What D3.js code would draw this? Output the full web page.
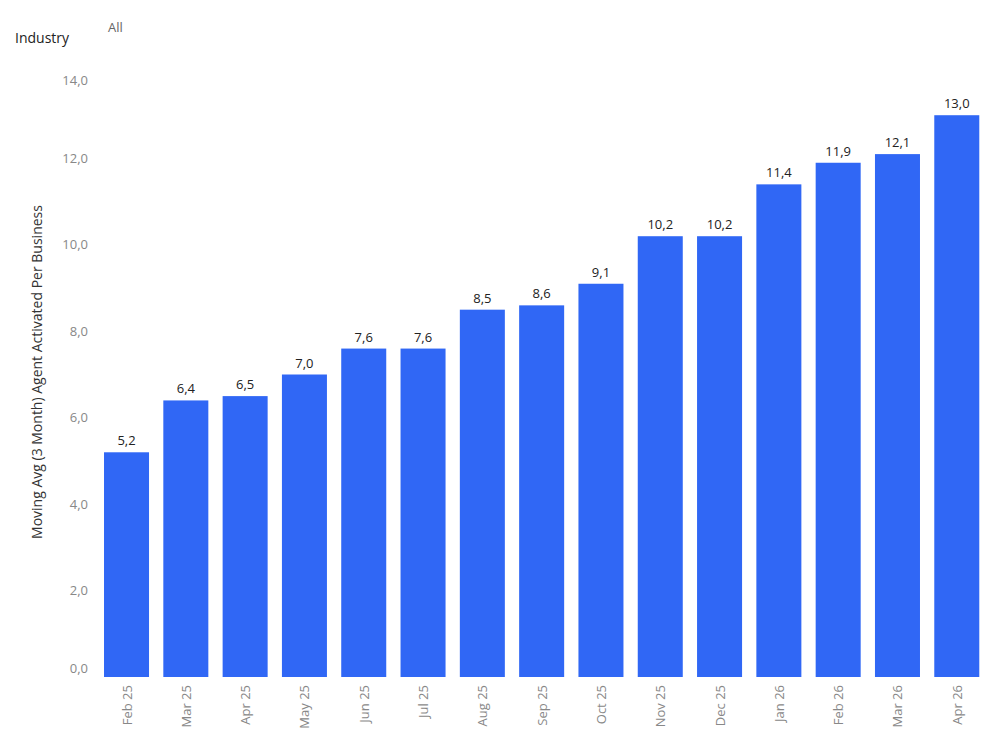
<!DOCTYPE html>
<html><head><meta charset="utf-8">
<script src="https://cdn.jsdelivr.net/npm/d3@7"></script>
<style>body{margin:0;background:#fff;font-family:"Open Sans","Noto Sans",sans-serif}</style>
</head><body><svg id="c" width="999" height="749"></svg>
<script>
const months = ["Feb 25","Mar 25","Apr 25","May 25","Jun 25","Jul 25","Aug 25","Sep 25","Oct 25","Nov 25","Dec 25","Jan 26","Feb 26","Mar 26","Apr 26"];
const values = [5.2,6.4,6.5,7.0,7.6,7.6,8.5,8.6,9.1,10.2,10.2,11.4,11.9,12.1,13.0];
const yTicks = [0,2,4,6,8,10,12,14];

const svg = d3.select("#c");
const fmt = v => v.toFixed(1).replace(".", ",");
const y = d3.scaleLinear().domain([0,14]).range([677,72]);
const x = d3.scaleBand().domain(months).range([96.9,986.4]).paddingInner(0.241).paddingOuter(0.12);

svg.append("text").attr("x",15).attr("y",43).attr("font-size",14).attr("fill","#222").text("Industry");
svg.append("text").attr("x",108).attr("y",32).attr("font-size",13).attr("fill","#666").text("All");

svg.selectAll(".yt").data(yTicks).enter().append("text")
  .attr("x",88).attr("y",d=> y(d) + (d===14?8:d===0?-9:0)).attr("dy","0.35em")
  .attr("text-anchor","end").attr("font-size",13).attr("fill","#888").text(fmt);

svg.append("text").attr("transform","translate(42,372) rotate(-90)").attr("text-anchor","middle")
  .attr("font-size",14).attr("fill","#333").text("Moving Avg (3 Month) Agent Activated Per Business");

svg.selectAll(".bar").data(values).enter().append("rect")
  .attr("x",(d,i)=>x(months[i])).attr("width",x.bandwidth())
  .attr("y",d=>y(d)).attr("height",d=>y(0)-y(d)).attr("fill","#3067f5");

svg.selectAll(".lbl").data(values).enter().append("text")
  .attr("x",(d,i)=>x(months[i])+x.bandwidth()/2).attr("y",d=>y(d)-7)
  .attr("text-anchor","middle").attr("font-size",13).attr("fill","#222").text(fmt);

svg.selectAll(".xt").data(months).enter().append("text")
  .attr("transform",d=>`translate(${x(d)+x.bandwidth()/2+5},685) rotate(-90)`)
  .attr("text-anchor","end").attr("font-size",13).attr("fill","#888").text(d=>d);
</script></body></html>
